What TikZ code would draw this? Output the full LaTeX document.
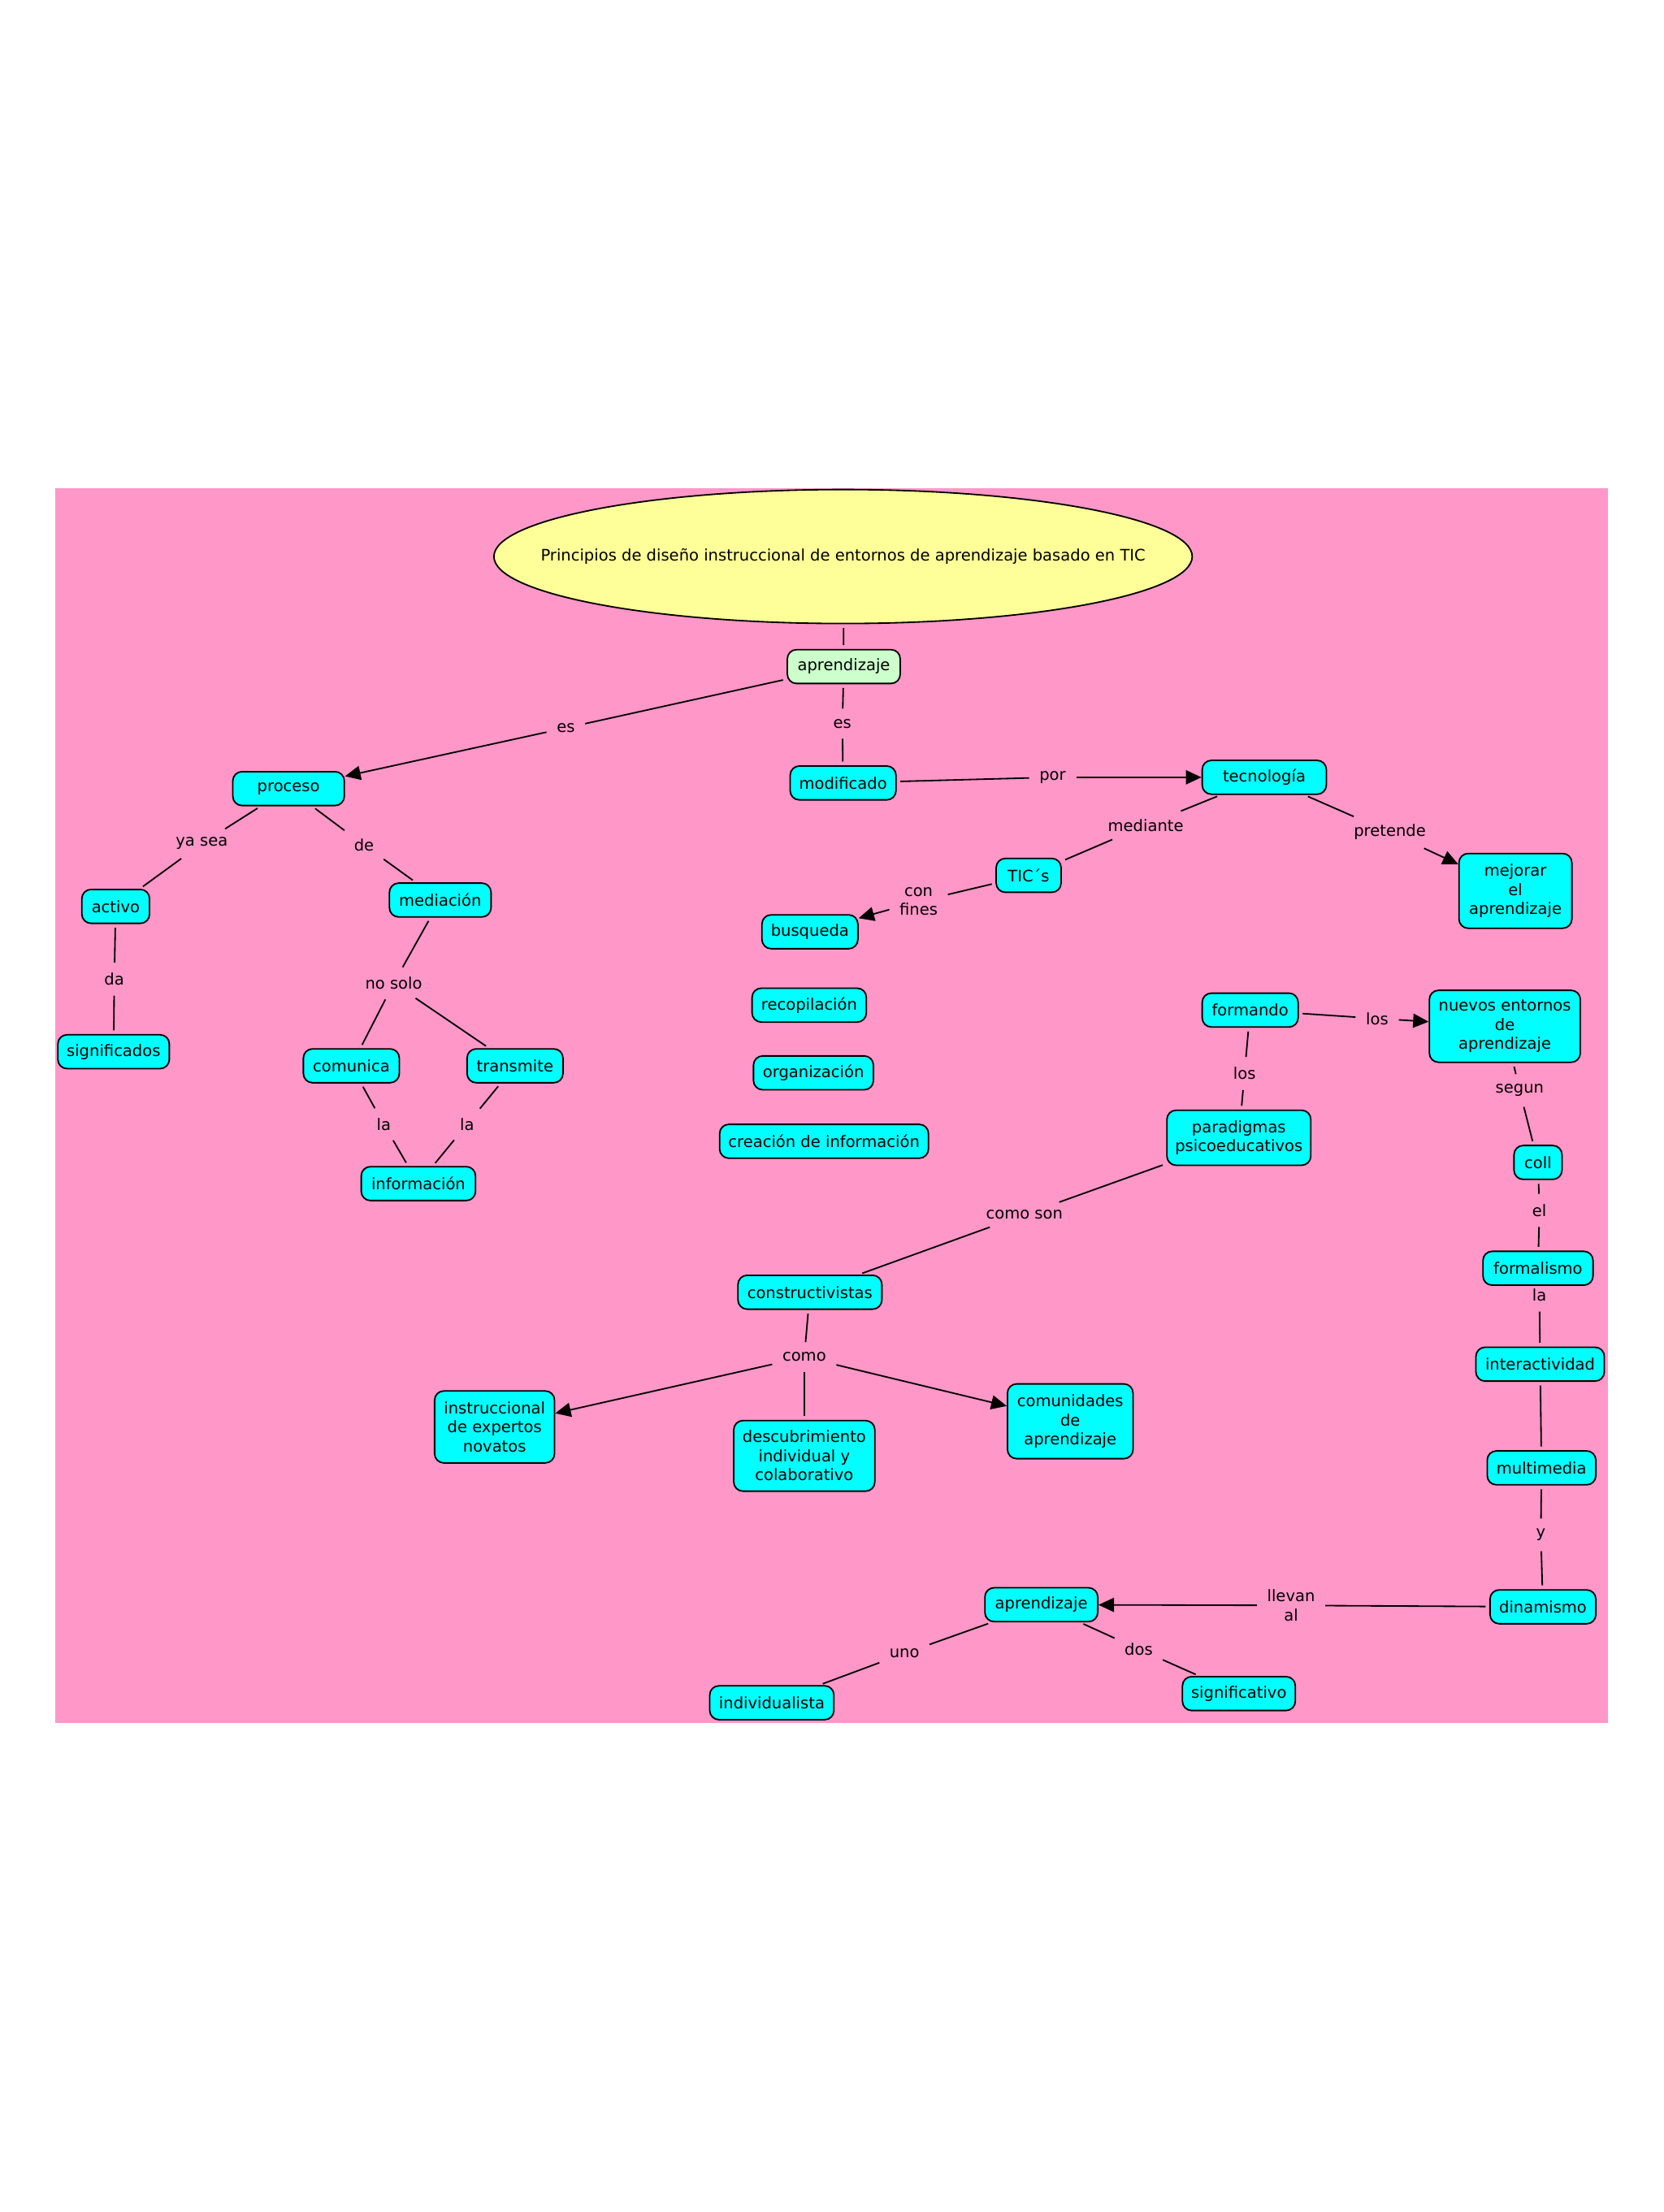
\documentclass[tikz,border=0pt]{standalone}
\usepackage{fontspec}
\setmainfont{DejaVu Sans}
\usetikzlibrary{shapes.geometric,arrows.meta}
\definecolor{rosamapa}{RGB}{255,151,200}
\definecolor{cianmapa}{RGB}{0,255,255}
\definecolor{verdemapa}{RGB}{204,255,204}
\definecolor{amarillomapa}{RGB}{255,255,153}
\newcommand{\letramapa}{\fontsize{6.4}{7.7}\selectfont}
\tikzset{
  concepto/.style={draw, fill=cianmapa, rounded corners=0.13cm, line width=0.6pt, minimum height=0.48cm, inner xsep=2pt, inner ysep=1pt, align=center, font=\letramapa},
  enlace/.style={inner sep=2.5pt, align=center, font=\letramapa},
  linea/.style={line width=0.6pt, shorten <=1.5pt, shorten >=1.5pt},
  flecha/.style={line width=0.6pt, shorten <=1.5pt, -{Triangle[length=0.22cm,width=0.2cm]}}
}

\begin{document}
\begin{tikzpicture}[x=0.02cm, y=-0.02cm]
        \useasboundingbox (0,0) rectangle (1179,1568);
        \fill[rosamapa] (39.3,346) rectangle (1139.3,1221.4);
        % titulo
        \node[draw, ellipse, fill=amarillomapa, line width=0.6pt, minimum width=9.9cm, minimum height=1.9cm,
              label={[font=\letramapa]center:Principios de diseño instruccional de entornos de aprendizaje basado en TIC}] (titulo) at (597.5,394.5) {};
        % conceptos
        \node[concepto, fill=verdemapa, minimum width=1.6cm] (aprend1) at (598,472.5) {aprendizaje};
        \node[concepto, minimum width=1.5cm] (modificado) at (597.5,555) {modificado};
        \node[concepto, minimum width=1.58cm] (proceso) at (204.5,559) {proceso};
        \node[concepto, minimum width=1.76cm] (tecnologia) at (896,551) {tecnología};
        \node[concepto, minimum width=0.96cm] (activo) at (82,642.5) {activo};
        \node[concepto, minimum width=1.44cm] (mediacion) at (312,638) {mediación};
        \node[concepto, minimum width=0.92cm] (tics) at (729,620.5) {TIC´s};
        \node[concepto, minimum width=1.6cm, minimum height=1.06cm] (mejorar) at (1074,631.5) {mejorar\\el\\aprendizaje};
        \node[concepto, minimum width=1.36cm] (busqueda) at (574,660.5) {busqueda};
        \node[concepto, minimum width=1.58cm] (significados) at (80.5,745.5) {significados};
        \node[concepto, minimum width=1.36cm] (comunica) at (249,755.5) {comunica};
        \node[concepto, minimum width=1.36cm] (transmite) at (365,755.5) {transmite};
        \node[concepto, minimum width=1.62cm] (informacion) at (296.5,839) {información};
        \node[concepto, minimum width=1.62cm] (recopilacion) at (573.5,712.5) {recopilación};
        \node[concepto, minimum width=1.7cm] (organizacion) at (576.5,760.5) {organización};
        \node[concepto, minimum width=2.96cm] (creacion) at (584,809) {creación de información};
        \node[concepto, minimum width=1.36cm] (formando) at (886,716) {formando};
        \node[concepto, minimum width=2.14cm, minimum height=1.02cm] (nuevos) at (1066.5,727.5) {nuevos entornos\\de\\aprendizaje};
        \node[concepto, minimum width=2.04cm, minimum height=0.78cm] (paradigmas) at (878,806.5) {paradigmas\\psicoeducativos};
        \node[concepto, minimum width=0.68cm] (coll) at (1090,824) {coll};
        \node[concepto, minimum width=2.04cm] (constructivistas) at (574,916) {constructivistas};
        \node[concepto, minimum width=1.56cm] (formalismo) at (1090,899) {formalismo};
        \node[concepto, minimum width=1.82cm] (interactividad) at (1091.5,967) {interactividad};
        \node[concepto, minimum width=1.7cm, minimum height=1.02cm] (instruccional) at (350.5,1011.5) {instruccional\\de expertos\\novatos};
        \node[concepto, minimum width=2cm, minimum height=1cm] (descubrimiento) at (570,1032) {descubrimiento\\individual y\\colaborativo};
        \node[concepto, minimum width=1.78cm, minimum height=1.06cm] (comunidades) at (758.5,1007.5) {comunidades\\de\\aprendizaje};
        \node[concepto, minimum width=1.54cm] (multimedia) at (1092.5,1040.5) {multimedia};
        \node[concepto, minimum width=1.5cm] (dinamismo) at (1093.5,1139) {dinamismo};
        \node[concepto, minimum width=1.6cm] (aprend2) at (738,1137.5) {aprendizaje};
        \node[concepto, minimum width=1.6cm] (significativo) at (878,1200.5) {significativo};
        \node[concepto, minimum width=1.76cm] (individualista) at (547,1207) {individualista};
        % frases de enlace
        \node[enlace] (es1) at (401,516) {es};
        \node[enlace] (es2) at (597,513) {es};
        \node[enlace] (por) at (746,551) {por};
        \node[enlace] (yasea) at (143,598) {ya sea};
        \node[enlace] (de) at (258,599) {de};
        \node[enlace] (da) at (81,694) {da};
        \node[enlace] (nosolo) at (279,697) {no solo};
        \node[enlace] (la1) at (272,797) {la};
        \node[enlace] (la2) at (331,797) {la};
        \node[enlace] (mediante) at (812,585) {mediante};
        \node[enlace] (pretende) at (985,590) {pretende};
        \node[enlace] (confines) at (651,639) {con\\fines};
        \node[enlace] (los1) at (976,722) {los};
        \node[enlace] (los2) at (882,761) {los};
        \node[enlace] (segun) at (1077,773) {segun};
        \node[enlace] (comoson) at (726,861) {como son};
        \node[enlace] (el) at (1091,858) {el};
        \node[enlace] (la3) at (1091,918) {la};
        \node[enlace] (como) at (570,962) {como};
        \node[enlace] (y) at (1092,1088) {y};
        \node[enlace] (llevan) at (915,1138) {llevan\\al};
        \node[enlace] (uno) at (641,1172) {uno};
        \node[enlace] (dos) at (807,1169) {dos};
        % conectores
        \draw[linea] (titulo) -- (aprend1);
        \draw[linea] (aprend1) -- (es1);
        \draw[flecha] (es1) -- (proceso);
        \draw[linea] (aprend1) -- (es2);
        \draw[linea] (es2) -- (modificado);
        \draw[linea] (modificado) -- (por);
        \draw[flecha] (por) -- (tecnologia);
        \draw[linea] (proceso) -- (yasea);
        \draw[linea] (yasea) -- (activo);
        \draw[linea] (proceso) -- (de);
        \draw[linea] (de) -- (mediacion);
        \draw[linea] (activo) -- (da);
        \draw[linea] (da) -- (significados);
        \draw[linea] (mediacion) -- (nosolo);
        \draw[linea] (nosolo) -- (comunica);
        \draw[linea] (nosolo) -- (transmite);
        \draw[linea] (comunica) -- (la1);
        \draw[linea] (la1) -- (informacion);
        \draw[linea] (transmite) -- (la2);
        \draw[linea] (la2) -- (informacion);
        \draw[linea] (tecnologia) -- (mediante);
        \draw[linea] (mediante) -- (tics);
        \draw[linea] (tecnologia) -- (pretende);
        \draw[flecha] (pretende) -- (mejorar);
        \draw[linea] (tics) -- (confines);
        \draw[flecha] (confines) -- (busqueda);
        \draw[linea] (formando) -- (los1);
        \draw[flecha] (los1) -- (nuevos);
        \draw[linea] (formando) -- (los2);
        \draw[linea] (los2) -- (paradigmas);
        \draw[linea] (nuevos) -- (segun);
        \draw[linea] (segun) -- (coll);
        \draw[linea] (paradigmas) -- (comoson);
        \draw[linea] (comoson) -- (constructivistas);
        \draw[linea] (coll) -- (el);
        \draw[linea] (el) -- (formalismo);
        \draw[linea] (la3) -- (interactividad);
        \draw[linea] (interactividad) -- (multimedia);
        \draw[linea] (multimedia) -- (y);
        \draw[linea] (y) -- (dinamismo);
        \draw[linea] (dinamismo) -- (llevan);
        \draw[flecha] (llevan) -- (aprend2);
        \draw[linea] (aprend2) -- (uno);
        \draw[linea] (uno) -- (individualista);
        \draw[linea] (aprend2) -- (dos);
        \draw[linea] (dos) -- (significativo);
        \draw[linea] (constructivistas) -- (como);
        \draw[flecha] (como) -- (instruccional);
        \draw[linea] (como) -- (descubrimiento);
        \draw[flecha] (como) -- (comunidades);
\end{tikzpicture}
\end{document}
